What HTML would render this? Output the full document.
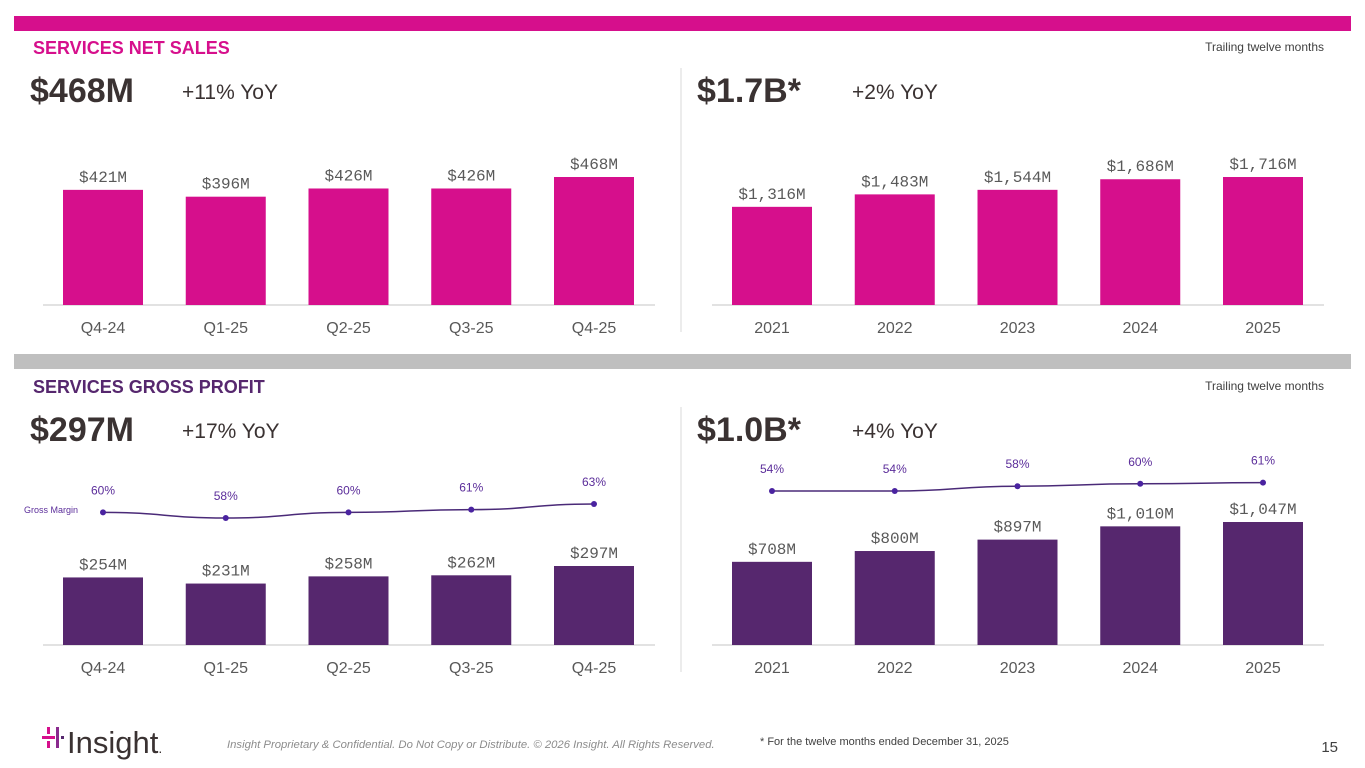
<!DOCTYPE html>
<html><head><meta charset="utf-8"><style>
html,body{margin:0;padding:0;background:#fff;}
svg{display:block;}
text{font-family:"Liberation Sans",sans-serif;}
.mono{font-family:"Liberation Mono",monospace;font-size:16px;fill:#595959;}
.cat{font-family:"Liberation Sans",sans-serif;font-size:16px;fill:#595959;}
.pct{font-size:12px;fill:#5b2d9a;}
</style></head><body>
<svg id="s" width="1365" height="768" viewBox="0 0 1365 768">
<rect x="14" y="16" width="1337" height="15" fill="#d60f8c"/>
<rect x="14" y="354" width="1337" height="15" fill="#bfbfbf"/>
<text x="33" y="54" font-size="18" font-weight="bold" fill="#d60f8c">SERVICES NET SALES</text>
<text x="1324" y="51" font-size="12" fill="#404040" text-anchor="end">Trailing twelve months</text>
<text x="30" y="102" font-size="34" font-weight="bold" fill="#3a3232">$468M</text>
<text x="182" y="99" font-size="21" fill="#3a3232">+11% YoY</text>
<text x="697" y="102" font-size="34" font-weight="bold" fill="#3a3232">$1.7B*</text>
<text x="852" y="99" font-size="21" fill="#3a3232">+2% YoY</text>
<text x="33" y="393" font-size="18" font-weight="bold" fill="#56276e">SERVICES GROSS PROFIT</text>
<text x="1324" y="390" font-size="12" fill="#404040" text-anchor="end">Trailing twelve months</text>
<text x="30" y="441" font-size="34" font-weight="bold" fill="#3a3232">$297M</text>
<text x="182" y="438" font-size="21" fill="#3a3232">+17% YoY</text>
<text x="697" y="441" font-size="34" font-weight="bold" fill="#3a3232">$1.0B*</text>
<text x="852" y="438" font-size="21" fill="#3a3232">+4% YoY</text>
<line x1="681" y1="68" x2="681" y2="332" stroke="#d9d9d9"/>
<line x1="681" y1="407" x2="681" y2="672" stroke="#d9d9d9"/>
<text x="24" y="513" font-size="9" fill="#5b2d9a">Gross Margin</text>
<g>
<rect x="47" y="727" width="3" height="7" fill="#d60f8c"/><rect x="47" y="741" width="3" height="7" fill="#d60f8c"/>
<rect x="42" y="736" width="13" height="3" fill="#d60f8c"/>
<rect x="56" y="727" width="3" height="21" fill="#8a2a8e"/>
<rect x="61" y="736" width="3" height="3" fill="#56276e"/>
<text x="67" y="753" font-size="31" fill="#3a3232">Insight<tspan font-size="14">.</tspan></text>
</g>
<text x="227" y="748" font-size="11.3" font-style="italic" fill="#8c8c8c">Insight Proprietary &amp; Confidential. Do Not Copy or Distribute. © 2026 Insight. All Rights Reserved.</text>
<text x="760" y="745" font-size="11" fill="#404040">* For the twelve months ended December 31, 2025</text>
<text x="1338" y="752" font-size="15" fill="#404040" text-anchor="end">15</text>
</svg>
<script>
const qCats = ["Q4-24","Q1-25","Q2-25","Q3-25","Q4-25"];
const yCats = ["2021","2022","2023","2024","2025"];
const qSales = [421,396,426,426,468];
const ySales = [1316,1483,1544,1686,1716];
const qProfit = [254,231,258,262,297];
const yProfit = [708,800,897,1010,1047];
const qMargin = [60,58,60,61,63];
const yMargin = [54,54,58,60,61];
const NS="http://www.w3.org/2000/svg";
const svg=document.getElementById('s');
function mk(t,a,txt){const e=document.createElementNS(NS,t);for(const k in a)e.setAttribute(k,a[k]);if(txt!==undefined)e.textContent=txt;svg.appendChild(e);return e;}
function fmt(v){return "$"+v.toLocaleString("en-US")+"M";}
function chart(id,cats,vals,x0,base,maxV,maxH,color){
  const step=122.75, bw=80;
  const xs=i=>x0+i*step;
  const ys=v=>base-v/maxV*maxH;
  const ax=mk('line',{x1:x0-60,x2:x0+4*step+61,y1:base,y2:base,stroke:'#d9d9d9','stroke-width':1.5});
  
  
  vals.forEach((v,i)=>{
    const r=mk('rect',{x:xs(i)-bw/2,y:ys(v),width:bw,height:base-ys(v),fill:color});
    
    
    const t=mk('text',{x:xs(i),y:ys(v)-8,'text-anchor':'middle',class:'mono'},fmt(v));
    
    
    const c=mk('text',{x:xs(i),y:base+28,'text-anchor':'middle',class:'cat'},cats[i]);
    
    
  });
  return xs;
}
function line(id,xs,vals,y0,ref,k){
  const ys=v=>y0-(v-ref)*k;
  let d="M"+xs(0)+","+ys(vals[0]);
  for(let i=1;i<vals.length;i++){const mx=(xs(i-1)+xs(i))/2;d+=" C"+mx+","+ys(vals[i-1])+" "+mx+","+ys(vals[i])+" "+xs(i)+","+ys(vals[i]);}
  const p=mk('path',{d:d,fill:'none',stroke:'#4a2a78','stroke-width':1.5});
  
  
  vals.forEach((v,i)=>{
    const c=mk('circle',{cx:xs(i),cy:ys(v),r:3,fill:'#4a23a0'});
    
    
    const t=mk('text',{x:xs(i),y:ys(v)-18,'text-anchor':'middle',class:'pct'},v+"%");
    
    
  });
}
chart('q-sales',qCats,qSales,103,305,468,128,'#d60f8c');
chart('y-sales',yCats,ySales,772,305,1716,128,'#d60f8c');
const xq=chart('q-profit',qCats,qProfit,103,645,297,79,'#56276e');
const xy=chart('y-profit',yCats,yProfit,772,645,1047,123,'#56276e');
line('q-profit',xq,qMargin,518,58,2.8);
line('y-profit',xy,yMargin,491,54,1.2);
</script>
</body></html>
